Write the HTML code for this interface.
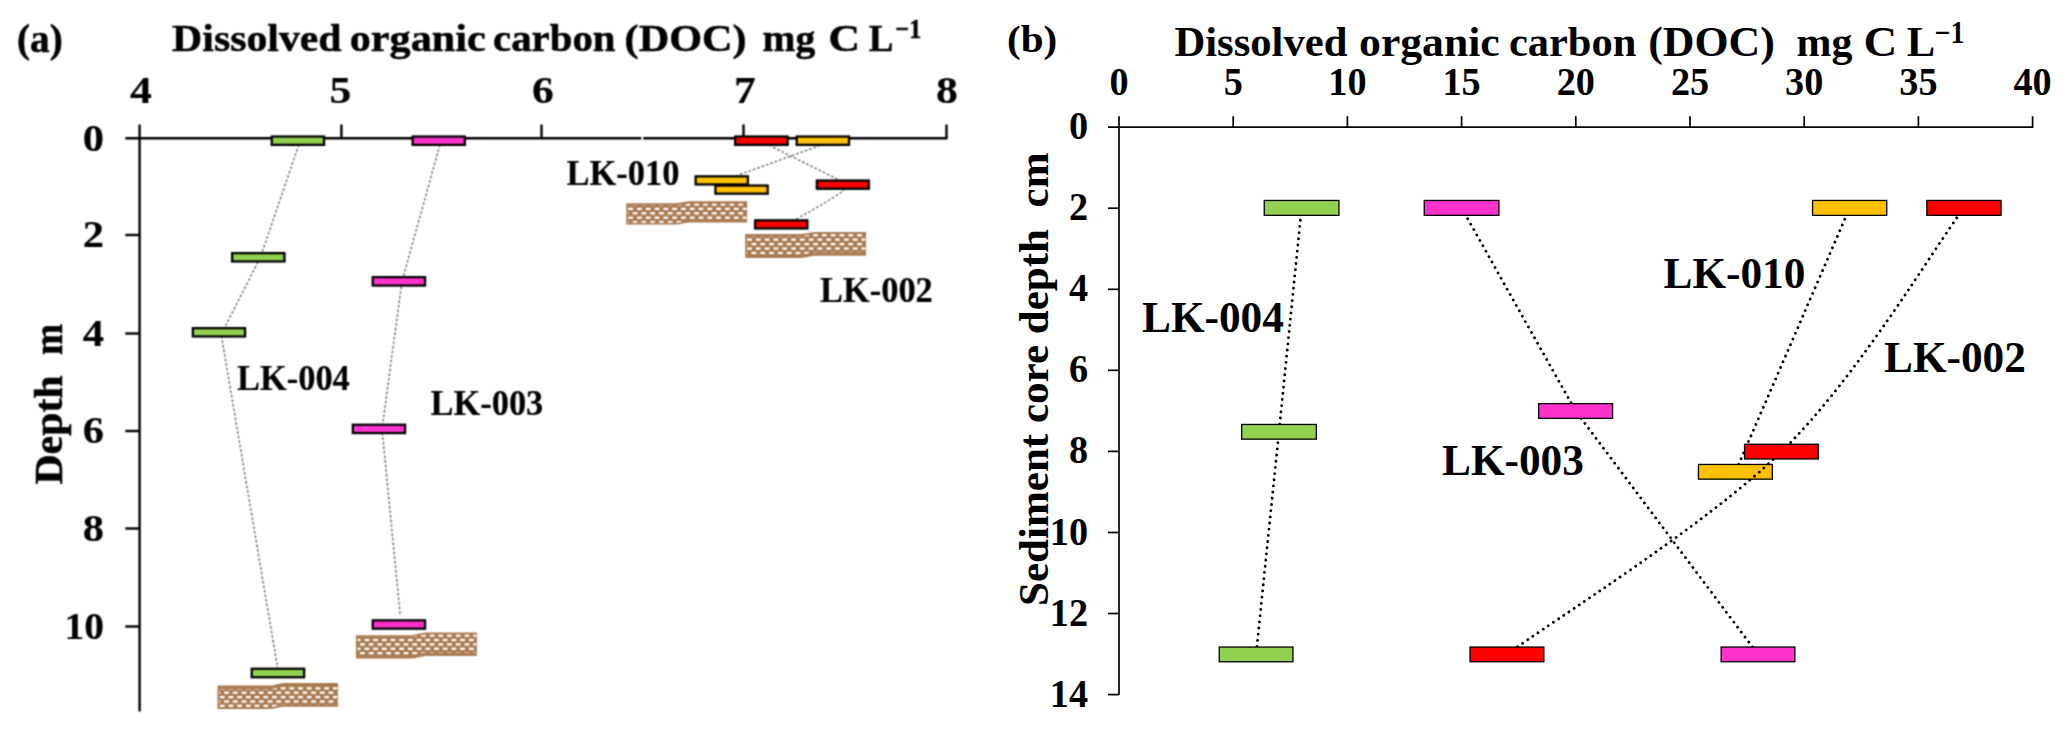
<!DOCTYPE html><html><head><meta charset="utf-8"><title>DOC profiles</title>
<style>html,body{margin:0;padding:0;background:#fff;overflow:hidden}svg{display:block}text{font-family:"Liberation Serif",serif;font-weight:bold;fill:#000;white-space:pre}</style></head><body>
<svg width="2067" height="730" viewBox="0 0 2067 730">
<defs>
<filter id="blur" filterUnits="userSpaceOnUse" x="0" y="0" width="1000" height="730" color-interpolation-filters="sRGB"><feConvolveMatrix order="3" kernelMatrix="1 2 1 2 5 2 1 2 1" divisor="17" edgeMode="duplicate" preserveAlpha="false"/></filter>
</defs>
<rect width="2067" height="730" fill="#fff"/>
<g id="panelA" filter="url(#blur)">
<g stroke="#000" stroke-width="2.4" fill="none">
<path d="M125.3 138.2H641.3M643.3 138.2H947.5"/>
<path d="M139.6 124.5V711.5"/>
<path d="M341.4 124.5V138.2"/>
<path d="M541.5 124.5V138.2"/>
<path d="M743.5 124.5V138.2"/>
<path d="M946.5 124.5V138.2"/>
<path d="M125.3 235.0H139.6"/>
<path d="M125.3 333.5H139.6"/>
<path d="M125.3 431.0H139.6"/>
<path d="M125.3 528.5H139.6"/>
<path d="M125.3 626.5H139.6"/>
</g>
<g stroke="#c8c8c8" stroke-width="0.8" fill="none">
<path d="M300.1 141L260.4 257.2L221.2 334.5L278.5 673"/>
<path d="M441 141L402 281.3L382 429L400.3 616"/>
<path d="M832.7 141L741.2 174L735 177"/>
<path d="M768 141L771.4 146.5L836.2 178.5L842 184L843.7 190.5Q826 203 798.5 217.7L790 224"/>
</g>
<g stroke="#222" stroke-width="1.4" fill="none" stroke-dasharray="1.3 3.3">
<path d="M300.1 141L260.4 257.2L221.2 334.5L278.5 673"/>
<path d="M441 141L402 281.3L382 429L400.3 616"/>
<path d="M832.7 141L741.2 174L735 177"/>
<path d="M768 141L771.4 146.5L836.2 178.5L842 184L843.7 190.5Q826 203 798.5 217.7L790 224"/>
</g>
<path d="M217.50 685.60 L269.50 685.60 C274.50 685.60 279.50 683.00 284.50 683.00 L338.10 683.00 L338.10 706.70 L284.50 706.70 C279.50 706.70 274.50 709.00 269.50 709.00 L217.50 709.00Z" fill="#aa7b53"/><clipPath id="sc1"><path d="M219.10 689.10 L269.50 689.10 C274.50 689.10 279.50 686.50 284.50 686.50 L337.50 686.50 L337.50 704.70 L284.50 704.70 C279.50 704.70 274.50 707.00 269.50 707.00 L219.10 707.00Z"/></clipPath><g clip-path="url(#sc1)" fill="#fff"><rect x="215.45" y="682.78" width="4.8" height="2.3"/><rect x="224.15" y="682.78" width="4.8" height="2.3"/><rect x="232.85" y="682.78" width="4.8" height="2.3"/><rect x="241.55" y="682.78" width="4.8" height="2.3"/><rect x="250.25" y="682.78" width="4.8" height="2.3"/><rect x="258.95" y="682.78" width="4.8" height="2.3"/><rect x="267.65" y="682.78" width="4.8" height="2.3"/><rect x="276.35" y="682.78" width="4.8" height="2.3"/><rect x="285.05" y="682.78" width="4.8" height="2.3"/><rect x="293.75" y="682.78" width="4.8" height="2.3"/><rect x="302.45" y="682.78" width="4.8" height="2.3"/><rect x="311.15" y="682.78" width="4.8" height="2.3"/><rect x="319.85" y="682.78" width="4.8" height="2.3"/><rect x="328.55" y="682.78" width="4.8" height="2.3"/><rect x="337.25" y="682.78" width="4.8" height="2.3"/><rect x="219.80" y="687.17" width="4.8" height="2.3"/><rect x="228.50" y="687.17" width="4.8" height="2.3"/><rect x="237.20" y="687.17" width="4.8" height="2.3"/><rect x="245.90" y="687.17" width="4.8" height="2.3"/><rect x="254.60" y="687.17" width="4.8" height="2.3"/><rect x="263.30" y="687.17" width="4.8" height="2.3"/><rect x="272.00" y="687.17" width="4.8" height="2.3"/><rect x="280.70" y="687.17" width="4.8" height="2.3"/><rect x="289.40" y="687.17" width="4.8" height="2.3"/><rect x="298.10" y="687.17" width="4.8" height="2.3"/><rect x="306.80" y="687.17" width="4.8" height="2.3"/><rect x="315.50" y="687.17" width="4.8" height="2.3"/><rect x="324.20" y="687.17" width="4.8" height="2.3"/><rect x="332.90" y="687.17" width="4.8" height="2.3"/><rect x="215.45" y="691.56" width="4.8" height="2.3"/><rect x="224.15" y="691.56" width="4.8" height="2.3"/><rect x="232.85" y="691.56" width="4.8" height="2.3"/><rect x="241.55" y="691.56" width="4.8" height="2.3"/><rect x="250.25" y="691.56" width="4.8" height="2.3"/><rect x="258.95" y="691.56" width="4.8" height="2.3"/><rect x="267.65" y="691.56" width="4.8" height="2.3"/><rect x="276.35" y="691.56" width="4.8" height="2.3"/><rect x="285.05" y="691.56" width="4.8" height="2.3"/><rect x="293.75" y="691.56" width="4.8" height="2.3"/><rect x="302.45" y="691.56" width="4.8" height="2.3"/><rect x="311.15" y="691.56" width="4.8" height="2.3"/><rect x="319.85" y="691.56" width="4.8" height="2.3"/><rect x="328.55" y="691.56" width="4.8" height="2.3"/><rect x="337.25" y="691.56" width="4.8" height="2.3"/><rect x="219.80" y="695.95" width="4.8" height="2.3"/><rect x="228.50" y="695.95" width="4.8" height="2.3"/><rect x="237.20" y="695.95" width="4.8" height="2.3"/><rect x="245.90" y="695.95" width="4.8" height="2.3"/><rect x="254.60" y="695.95" width="4.8" height="2.3"/><rect x="263.30" y="695.95" width="4.8" height="2.3"/><rect x="272.00" y="695.95" width="4.8" height="2.3"/><rect x="280.70" y="695.95" width="4.8" height="2.3"/><rect x="289.40" y="695.95" width="4.8" height="2.3"/><rect x="298.10" y="695.95" width="4.8" height="2.3"/><rect x="306.80" y="695.95" width="4.8" height="2.3"/><rect x="315.50" y="695.95" width="4.8" height="2.3"/><rect x="324.20" y="695.95" width="4.8" height="2.3"/><rect x="332.90" y="695.95" width="4.8" height="2.3"/><rect x="215.45" y="700.34" width="4.8" height="2.3"/><rect x="224.15" y="700.34" width="4.8" height="2.3"/><rect x="232.85" y="700.34" width="4.8" height="2.3"/><rect x="241.55" y="700.34" width="4.8" height="2.3"/><rect x="250.25" y="700.34" width="4.8" height="2.3"/><rect x="258.95" y="700.34" width="4.8" height="2.3"/><rect x="267.65" y="700.34" width="4.8" height="2.3"/><rect x="276.35" y="700.34" width="4.8" height="2.3"/><rect x="285.05" y="700.34" width="4.8" height="2.3"/><rect x="293.75" y="700.34" width="4.8" height="2.3"/><rect x="302.45" y="700.34" width="4.8" height="2.3"/><rect x="311.15" y="700.34" width="4.8" height="2.3"/><rect x="319.85" y="700.34" width="4.8" height="2.3"/><rect x="328.55" y="700.34" width="4.8" height="2.3"/><rect x="337.25" y="700.34" width="4.8" height="2.3"/><rect x="219.80" y="704.73" width="4.8" height="2.3"/><rect x="228.50" y="704.73" width="4.8" height="2.3"/><rect x="237.20" y="704.73" width="4.8" height="2.3"/><rect x="245.90" y="704.73" width="4.8" height="2.3"/><rect x="254.60" y="704.73" width="4.8" height="2.3"/><rect x="263.30" y="704.73" width="4.8" height="2.3"/><rect x="272.00" y="704.73" width="4.8" height="2.3"/><rect x="280.70" y="704.73" width="4.8" height="2.3"/><rect x="289.40" y="704.73" width="4.8" height="2.3"/><rect x="298.10" y="704.73" width="4.8" height="2.3"/><rect x="306.80" y="704.73" width="4.8" height="2.3"/><rect x="315.50" y="704.73" width="4.8" height="2.3"/><rect x="324.20" y="704.73" width="4.8" height="2.3"/><rect x="332.90" y="704.73" width="4.8" height="2.3"/><rect x="215.45" y="709.12" width="4.8" height="2.3"/><rect x="224.15" y="709.12" width="4.8" height="2.3"/><rect x="232.85" y="709.12" width="4.8" height="2.3"/><rect x="241.55" y="709.12" width="4.8" height="2.3"/><rect x="250.25" y="709.12" width="4.8" height="2.3"/><rect x="258.95" y="709.12" width="4.8" height="2.3"/><rect x="267.65" y="709.12" width="4.8" height="2.3"/><rect x="276.35" y="709.12" width="4.8" height="2.3"/><rect x="285.05" y="709.12" width="4.8" height="2.3"/><rect x="293.75" y="709.12" width="4.8" height="2.3"/><rect x="302.45" y="709.12" width="4.8" height="2.3"/><rect x="311.15" y="709.12" width="4.8" height="2.3"/><rect x="319.85" y="709.12" width="4.8" height="2.3"/><rect x="328.55" y="709.12" width="4.8" height="2.3"/><rect x="337.25" y="709.12" width="4.8" height="2.3"/></g>
<path d="M355.90 635.20 L411.00 635.20 C416.00 635.20 421.00 632.60 426.00 632.60 L476.90 632.60 L476.90 656.00 L426.00 656.00 C421.00 656.00 416.00 658.60 411.00 658.60 L355.90 658.60Z" fill="#aa7b53"/><clipPath id="sc2"><path d="M357.50 636.90 L411.00 636.90 C416.00 636.90 421.00 634.30 426.00 634.30 L476.30 634.30 L476.30 652.50 L426.00 652.50 C421.00 652.50 416.00 655.10 411.00 655.10 L357.50 655.10Z"/></clipPath><g clip-path="url(#sc2)" fill="#fff"><rect x="355.75" y="630.08" width="4.8" height="2.3"/><rect x="364.45" y="630.08" width="4.8" height="2.3"/><rect x="373.15" y="630.08" width="4.8" height="2.3"/><rect x="381.85" y="630.08" width="4.8" height="2.3"/><rect x="390.55" y="630.08" width="4.8" height="2.3"/><rect x="399.25" y="630.08" width="4.8" height="2.3"/><rect x="407.95" y="630.08" width="4.8" height="2.3"/><rect x="416.65" y="630.08" width="4.8" height="2.3"/><rect x="425.35" y="630.08" width="4.8" height="2.3"/><rect x="434.05" y="630.08" width="4.8" height="2.3"/><rect x="442.75" y="630.08" width="4.8" height="2.3"/><rect x="451.45" y="630.08" width="4.8" height="2.3"/><rect x="460.15" y="630.08" width="4.8" height="2.3"/><rect x="468.85" y="630.08" width="4.8" height="2.3"/><rect x="351.40" y="634.47" width="4.8" height="2.3"/><rect x="360.10" y="634.47" width="4.8" height="2.3"/><rect x="368.80" y="634.47" width="4.8" height="2.3"/><rect x="377.50" y="634.47" width="4.8" height="2.3"/><rect x="386.20" y="634.47" width="4.8" height="2.3"/><rect x="394.90" y="634.47" width="4.8" height="2.3"/><rect x="403.60" y="634.47" width="4.8" height="2.3"/><rect x="412.30" y="634.47" width="4.8" height="2.3"/><rect x="421.00" y="634.47" width="4.8" height="2.3"/><rect x="429.70" y="634.47" width="4.8" height="2.3"/><rect x="438.40" y="634.47" width="4.8" height="2.3"/><rect x="447.10" y="634.47" width="4.8" height="2.3"/><rect x="455.80" y="634.47" width="4.8" height="2.3"/><rect x="464.50" y="634.47" width="4.8" height="2.3"/><rect x="473.20" y="634.47" width="4.8" height="2.3"/><rect x="355.75" y="638.86" width="4.8" height="2.3"/><rect x="364.45" y="638.86" width="4.8" height="2.3"/><rect x="373.15" y="638.86" width="4.8" height="2.3"/><rect x="381.85" y="638.86" width="4.8" height="2.3"/><rect x="390.55" y="638.86" width="4.8" height="2.3"/><rect x="399.25" y="638.86" width="4.8" height="2.3"/><rect x="407.95" y="638.86" width="4.8" height="2.3"/><rect x="416.65" y="638.86" width="4.8" height="2.3"/><rect x="425.35" y="638.86" width="4.8" height="2.3"/><rect x="434.05" y="638.86" width="4.8" height="2.3"/><rect x="442.75" y="638.86" width="4.8" height="2.3"/><rect x="451.45" y="638.86" width="4.8" height="2.3"/><rect x="460.15" y="638.86" width="4.8" height="2.3"/><rect x="468.85" y="638.86" width="4.8" height="2.3"/><rect x="351.40" y="643.25" width="4.8" height="2.3"/><rect x="360.10" y="643.25" width="4.8" height="2.3"/><rect x="368.80" y="643.25" width="4.8" height="2.3"/><rect x="377.50" y="643.25" width="4.8" height="2.3"/><rect x="386.20" y="643.25" width="4.8" height="2.3"/><rect x="394.90" y="643.25" width="4.8" height="2.3"/><rect x="403.60" y="643.25" width="4.8" height="2.3"/><rect x="412.30" y="643.25" width="4.8" height="2.3"/><rect x="421.00" y="643.25" width="4.8" height="2.3"/><rect x="429.70" y="643.25" width="4.8" height="2.3"/><rect x="438.40" y="643.25" width="4.8" height="2.3"/><rect x="447.10" y="643.25" width="4.8" height="2.3"/><rect x="455.80" y="643.25" width="4.8" height="2.3"/><rect x="464.50" y="643.25" width="4.8" height="2.3"/><rect x="473.20" y="643.25" width="4.8" height="2.3"/><rect x="355.75" y="647.64" width="4.8" height="2.3"/><rect x="364.45" y="647.64" width="4.8" height="2.3"/><rect x="373.15" y="647.64" width="4.8" height="2.3"/><rect x="381.85" y="647.64" width="4.8" height="2.3"/><rect x="390.55" y="647.64" width="4.8" height="2.3"/><rect x="399.25" y="647.64" width="4.8" height="2.3"/><rect x="407.95" y="647.64" width="4.8" height="2.3"/><rect x="416.65" y="647.64" width="4.8" height="2.3"/><rect x="425.35" y="647.64" width="4.8" height="2.3"/><rect x="434.05" y="647.64" width="4.8" height="2.3"/><rect x="442.75" y="647.64" width="4.8" height="2.3"/><rect x="451.45" y="647.64" width="4.8" height="2.3"/><rect x="460.15" y="647.64" width="4.8" height="2.3"/><rect x="468.85" y="647.64" width="4.8" height="2.3"/><rect x="351.40" y="652.03" width="4.8" height="2.3"/><rect x="360.10" y="652.03" width="4.8" height="2.3"/><rect x="368.80" y="652.03" width="4.8" height="2.3"/><rect x="377.50" y="652.03" width="4.8" height="2.3"/><rect x="386.20" y="652.03" width="4.8" height="2.3"/><rect x="394.90" y="652.03" width="4.8" height="2.3"/><rect x="403.60" y="652.03" width="4.8" height="2.3"/><rect x="412.30" y="652.03" width="4.8" height="2.3"/><rect x="421.00" y="652.03" width="4.8" height="2.3"/><rect x="429.70" y="652.03" width="4.8" height="2.3"/><rect x="438.40" y="652.03" width="4.8" height="2.3"/><rect x="447.10" y="652.03" width="4.8" height="2.3"/><rect x="455.80" y="652.03" width="4.8" height="2.3"/><rect x="464.50" y="652.03" width="4.8" height="2.3"/><rect x="473.20" y="652.03" width="4.8" height="2.3"/><rect x="355.75" y="656.42" width="4.8" height="2.3"/><rect x="364.45" y="656.42" width="4.8" height="2.3"/><rect x="373.15" y="656.42" width="4.8" height="2.3"/><rect x="381.85" y="656.42" width="4.8" height="2.3"/><rect x="390.55" y="656.42" width="4.8" height="2.3"/><rect x="399.25" y="656.42" width="4.8" height="2.3"/><rect x="407.95" y="656.42" width="4.8" height="2.3"/><rect x="416.65" y="656.42" width="4.8" height="2.3"/><rect x="425.35" y="656.42" width="4.8" height="2.3"/><rect x="434.05" y="656.42" width="4.8" height="2.3"/><rect x="442.75" y="656.42" width="4.8" height="2.3"/><rect x="451.45" y="656.42" width="4.8" height="2.3"/><rect x="460.15" y="656.42" width="4.8" height="2.3"/><rect x="468.85" y="656.42" width="4.8" height="2.3"/></g>
<path d="M626.30 203.20 L675.50 203.20 C680.50 203.20 685.50 201.30 690.50 201.30 L747.10 201.30 L747.10 222.50 L690.50 222.50 C685.50 222.50 680.50 224.60 675.50 224.60 L626.30 224.60Z" fill="#aa7b53"/><clipPath id="sc3"><path d="M627.90 205.40 L675.50 205.40 C680.50 205.40 685.50 203.50 690.50 203.50 L746.50 203.50 L746.50 220.70 L690.50 220.70 C685.50 220.70 680.50 222.80 675.50 222.80 L627.90 222.80Z"/></clipPath><g clip-path="url(#sc3)" fill="#fff"><rect x="628.20" y="198.95" width="4.8" height="2.3"/><rect x="637.00" y="198.95" width="4.8" height="2.3"/><rect x="645.80" y="198.95" width="4.8" height="2.3"/><rect x="654.60" y="198.95" width="4.8" height="2.3"/><rect x="663.40" y="198.95" width="4.8" height="2.3"/><rect x="672.20" y="198.95" width="4.8" height="2.3"/><rect x="681.00" y="198.95" width="4.8" height="2.3"/><rect x="689.80" y="198.95" width="4.8" height="2.3"/><rect x="698.60" y="198.95" width="4.8" height="2.3"/><rect x="707.40" y="198.95" width="4.8" height="2.3"/><rect x="716.20" y="198.95" width="4.8" height="2.3"/><rect x="725.00" y="198.95" width="4.8" height="2.3"/><rect x="733.80" y="198.95" width="4.8" height="2.3"/><rect x="742.60" y="198.95" width="4.8" height="2.3"/><rect x="623.80" y="203.35" width="4.8" height="2.3"/><rect x="632.60" y="203.35" width="4.8" height="2.3"/><rect x="641.40" y="203.35" width="4.8" height="2.3"/><rect x="650.20" y="203.35" width="4.8" height="2.3"/><rect x="659.00" y="203.35" width="4.8" height="2.3"/><rect x="667.80" y="203.35" width="4.8" height="2.3"/><rect x="676.60" y="203.35" width="4.8" height="2.3"/><rect x="685.40" y="203.35" width="4.8" height="2.3"/><rect x="694.20" y="203.35" width="4.8" height="2.3"/><rect x="703.00" y="203.35" width="4.8" height="2.3"/><rect x="711.80" y="203.35" width="4.8" height="2.3"/><rect x="720.60" y="203.35" width="4.8" height="2.3"/><rect x="729.40" y="203.35" width="4.8" height="2.3"/><rect x="738.20" y="203.35" width="4.8" height="2.3"/><rect x="747.00" y="203.35" width="4.8" height="2.3"/><rect x="628.20" y="207.75" width="4.8" height="2.3"/><rect x="637.00" y="207.75" width="4.8" height="2.3"/><rect x="645.80" y="207.75" width="4.8" height="2.3"/><rect x="654.60" y="207.75" width="4.8" height="2.3"/><rect x="663.40" y="207.75" width="4.8" height="2.3"/><rect x="672.20" y="207.75" width="4.8" height="2.3"/><rect x="681.00" y="207.75" width="4.8" height="2.3"/><rect x="689.80" y="207.75" width="4.8" height="2.3"/><rect x="698.60" y="207.75" width="4.8" height="2.3"/><rect x="707.40" y="207.75" width="4.8" height="2.3"/><rect x="716.20" y="207.75" width="4.8" height="2.3"/><rect x="725.00" y="207.75" width="4.8" height="2.3"/><rect x="733.80" y="207.75" width="4.8" height="2.3"/><rect x="742.60" y="207.75" width="4.8" height="2.3"/><rect x="623.80" y="212.15" width="4.8" height="2.3"/><rect x="632.60" y="212.15" width="4.8" height="2.3"/><rect x="641.40" y="212.15" width="4.8" height="2.3"/><rect x="650.20" y="212.15" width="4.8" height="2.3"/><rect x="659.00" y="212.15" width="4.8" height="2.3"/><rect x="667.80" y="212.15" width="4.8" height="2.3"/><rect x="676.60" y="212.15" width="4.8" height="2.3"/><rect x="685.40" y="212.15" width="4.8" height="2.3"/><rect x="694.20" y="212.15" width="4.8" height="2.3"/><rect x="703.00" y="212.15" width="4.8" height="2.3"/><rect x="711.80" y="212.15" width="4.8" height="2.3"/><rect x="720.60" y="212.15" width="4.8" height="2.3"/><rect x="729.40" y="212.15" width="4.8" height="2.3"/><rect x="738.20" y="212.15" width="4.8" height="2.3"/><rect x="747.00" y="212.15" width="4.8" height="2.3"/><rect x="628.20" y="216.55" width="4.8" height="2.3"/><rect x="637.00" y="216.55" width="4.8" height="2.3"/><rect x="645.80" y="216.55" width="4.8" height="2.3"/><rect x="654.60" y="216.55" width="4.8" height="2.3"/><rect x="663.40" y="216.55" width="4.8" height="2.3"/><rect x="672.20" y="216.55" width="4.8" height="2.3"/><rect x="681.00" y="216.55" width="4.8" height="2.3"/><rect x="689.80" y="216.55" width="4.8" height="2.3"/><rect x="698.60" y="216.55" width="4.8" height="2.3"/><rect x="707.40" y="216.55" width="4.8" height="2.3"/><rect x="716.20" y="216.55" width="4.8" height="2.3"/><rect x="725.00" y="216.55" width="4.8" height="2.3"/><rect x="733.80" y="216.55" width="4.8" height="2.3"/><rect x="742.60" y="216.55" width="4.8" height="2.3"/><rect x="623.80" y="220.95" width="4.8" height="2.3"/><rect x="632.60" y="220.95" width="4.8" height="2.3"/><rect x="641.40" y="220.95" width="4.8" height="2.3"/><rect x="650.20" y="220.95" width="4.8" height="2.3"/><rect x="659.00" y="220.95" width="4.8" height="2.3"/><rect x="667.80" y="220.95" width="4.8" height="2.3"/><rect x="676.60" y="220.95" width="4.8" height="2.3"/><rect x="685.40" y="220.95" width="4.8" height="2.3"/><rect x="694.20" y="220.95" width="4.8" height="2.3"/><rect x="703.00" y="220.95" width="4.8" height="2.3"/><rect x="711.80" y="220.95" width="4.8" height="2.3"/><rect x="720.60" y="220.95" width="4.8" height="2.3"/><rect x="729.40" y="220.95" width="4.8" height="2.3"/><rect x="738.20" y="220.95" width="4.8" height="2.3"/><rect x="747.00" y="220.95" width="4.8" height="2.3"/><rect x="628.20" y="225.35" width="4.8" height="2.3"/><rect x="637.00" y="225.35" width="4.8" height="2.3"/><rect x="645.80" y="225.35" width="4.8" height="2.3"/><rect x="654.60" y="225.35" width="4.8" height="2.3"/><rect x="663.40" y="225.35" width="4.8" height="2.3"/><rect x="672.20" y="225.35" width="4.8" height="2.3"/><rect x="681.00" y="225.35" width="4.8" height="2.3"/><rect x="689.80" y="225.35" width="4.8" height="2.3"/><rect x="698.60" y="225.35" width="4.8" height="2.3"/><rect x="707.40" y="225.35" width="4.8" height="2.3"/><rect x="716.20" y="225.35" width="4.8" height="2.3"/><rect x="725.00" y="225.35" width="4.8" height="2.3"/><rect x="733.80" y="225.35" width="4.8" height="2.3"/><rect x="742.60" y="225.35" width="4.8" height="2.3"/></g>
<path d="M745.20 234.00 L801.20 234.00 C806.20 234.00 811.20 232.10 816.20 232.10 L866.00 232.10 L866.00 255.70 L816.20 255.70 C811.20 255.70 806.20 257.90 801.20 257.90 L745.20 257.90Z" fill="#aa7b53"/><clipPath id="sc4"><path d="M746.80 236.00 L801.20 236.00 C806.20 236.00 811.20 234.10 816.20 234.10 L865.40 234.10 L865.40 252.30 L816.20 252.30 C811.20 252.30 806.20 254.50 801.20 254.50 L746.80 254.50Z"/></clipPath><g clip-path="url(#sc4)" fill="#fff"><rect x="747.10" y="229.60" width="4.8" height="2.3"/><rect x="755.90" y="229.60" width="4.8" height="2.3"/><rect x="764.70" y="229.60" width="4.8" height="2.3"/><rect x="773.50" y="229.60" width="4.8" height="2.3"/><rect x="782.30" y="229.60" width="4.8" height="2.3"/><rect x="791.10" y="229.60" width="4.8" height="2.3"/><rect x="799.90" y="229.60" width="4.8" height="2.3"/><rect x="808.70" y="229.60" width="4.8" height="2.3"/><rect x="817.50" y="229.60" width="4.8" height="2.3"/><rect x="826.30" y="229.60" width="4.8" height="2.3"/><rect x="835.10" y="229.60" width="4.8" height="2.3"/><rect x="843.90" y="229.60" width="4.8" height="2.3"/><rect x="852.70" y="229.60" width="4.8" height="2.3"/><rect x="861.50" y="229.60" width="4.8" height="2.3"/><rect x="742.70" y="234.05" width="4.8" height="2.3"/><rect x="751.50" y="234.05" width="4.8" height="2.3"/><rect x="760.30" y="234.05" width="4.8" height="2.3"/><rect x="769.10" y="234.05" width="4.8" height="2.3"/><rect x="777.90" y="234.05" width="4.8" height="2.3"/><rect x="786.70" y="234.05" width="4.8" height="2.3"/><rect x="795.50" y="234.05" width="4.8" height="2.3"/><rect x="804.30" y="234.05" width="4.8" height="2.3"/><rect x="813.10" y="234.05" width="4.8" height="2.3"/><rect x="821.90" y="234.05" width="4.8" height="2.3"/><rect x="830.70" y="234.05" width="4.8" height="2.3"/><rect x="839.50" y="234.05" width="4.8" height="2.3"/><rect x="848.30" y="234.05" width="4.8" height="2.3"/><rect x="857.10" y="234.05" width="4.8" height="2.3"/><rect x="865.90" y="234.05" width="4.8" height="2.3"/><rect x="747.10" y="238.50" width="4.8" height="2.3"/><rect x="755.90" y="238.50" width="4.8" height="2.3"/><rect x="764.70" y="238.50" width="4.8" height="2.3"/><rect x="773.50" y="238.50" width="4.8" height="2.3"/><rect x="782.30" y="238.50" width="4.8" height="2.3"/><rect x="791.10" y="238.50" width="4.8" height="2.3"/><rect x="799.90" y="238.50" width="4.8" height="2.3"/><rect x="808.70" y="238.50" width="4.8" height="2.3"/><rect x="817.50" y="238.50" width="4.8" height="2.3"/><rect x="826.30" y="238.50" width="4.8" height="2.3"/><rect x="835.10" y="238.50" width="4.8" height="2.3"/><rect x="843.90" y="238.50" width="4.8" height="2.3"/><rect x="852.70" y="238.50" width="4.8" height="2.3"/><rect x="861.50" y="238.50" width="4.8" height="2.3"/><rect x="742.70" y="242.95" width="4.8" height="2.3"/><rect x="751.50" y="242.95" width="4.8" height="2.3"/><rect x="760.30" y="242.95" width="4.8" height="2.3"/><rect x="769.10" y="242.95" width="4.8" height="2.3"/><rect x="777.90" y="242.95" width="4.8" height="2.3"/><rect x="786.70" y="242.95" width="4.8" height="2.3"/><rect x="795.50" y="242.95" width="4.8" height="2.3"/><rect x="804.30" y="242.95" width="4.8" height="2.3"/><rect x="813.10" y="242.95" width="4.8" height="2.3"/><rect x="821.90" y="242.95" width="4.8" height="2.3"/><rect x="830.70" y="242.95" width="4.8" height="2.3"/><rect x="839.50" y="242.95" width="4.8" height="2.3"/><rect x="848.30" y="242.95" width="4.8" height="2.3"/><rect x="857.10" y="242.95" width="4.8" height="2.3"/><rect x="865.90" y="242.95" width="4.8" height="2.3"/><rect x="747.10" y="247.40" width="4.8" height="2.3"/><rect x="755.90" y="247.40" width="4.8" height="2.3"/><rect x="764.70" y="247.40" width="4.8" height="2.3"/><rect x="773.50" y="247.40" width="4.8" height="2.3"/><rect x="782.30" y="247.40" width="4.8" height="2.3"/><rect x="791.10" y="247.40" width="4.8" height="2.3"/><rect x="799.90" y="247.40" width="4.8" height="2.3"/><rect x="808.70" y="247.40" width="4.8" height="2.3"/><rect x="817.50" y="247.40" width="4.8" height="2.3"/><rect x="826.30" y="247.40" width="4.8" height="2.3"/><rect x="835.10" y="247.40" width="4.8" height="2.3"/><rect x="843.90" y="247.40" width="4.8" height="2.3"/><rect x="852.70" y="247.40" width="4.8" height="2.3"/><rect x="861.50" y="247.40" width="4.8" height="2.3"/><rect x="742.70" y="251.85" width="4.8" height="2.3"/><rect x="751.50" y="251.85" width="4.8" height="2.3"/><rect x="760.30" y="251.85" width="4.8" height="2.3"/><rect x="769.10" y="251.85" width="4.8" height="2.3"/><rect x="777.90" y="251.85" width="4.8" height="2.3"/><rect x="786.70" y="251.85" width="4.8" height="2.3"/><rect x="795.50" y="251.85" width="4.8" height="2.3"/><rect x="804.30" y="251.85" width="4.8" height="2.3"/><rect x="813.10" y="251.85" width="4.8" height="2.3"/><rect x="821.90" y="251.85" width="4.8" height="2.3"/><rect x="830.70" y="251.85" width="4.8" height="2.3"/><rect x="839.50" y="251.85" width="4.8" height="2.3"/><rect x="848.30" y="251.85" width="4.8" height="2.3"/><rect x="857.10" y="251.85" width="4.8" height="2.3"/><rect x="865.90" y="251.85" width="4.8" height="2.3"/><rect x="747.10" y="256.30" width="4.8" height="2.3"/><rect x="755.90" y="256.30" width="4.8" height="2.3"/><rect x="764.70" y="256.30" width="4.8" height="2.3"/><rect x="773.50" y="256.30" width="4.8" height="2.3"/><rect x="782.30" y="256.30" width="4.8" height="2.3"/><rect x="791.10" y="256.30" width="4.8" height="2.3"/><rect x="799.90" y="256.30" width="4.8" height="2.3"/><rect x="808.70" y="256.30" width="4.8" height="2.3"/><rect x="817.50" y="256.30" width="4.8" height="2.3"/><rect x="826.30" y="256.30" width="4.8" height="2.3"/><rect x="835.10" y="256.30" width="4.8" height="2.3"/><rect x="843.90" y="256.30" width="4.8" height="2.3"/><rect x="852.70" y="256.30" width="4.8" height="2.3"/><rect x="861.50" y="256.30" width="4.8" height="2.3"/></g>
<rect x="271.75" y="136.55" width="52.30" height="8.30" fill="#92d050" stroke="#000" stroke-width="2.3"/>
<rect x="232.15" y="253.15" width="52.30" height="8.30" fill="#92d050" stroke="#000" stroke-width="2.3"/>
<rect x="192.85" y="328.15" width="52.20" height="8.30" fill="#92d050" stroke="#000" stroke-width="2.3"/>
<rect x="251.75" y="668.75" width="52.40" height="8.50" fill="#92d050" stroke="#000" stroke-width="2.3"/>
<rect x="412.65" y="136.55" width="52.20" height="8.30" fill="#ff33cc" stroke="#000" stroke-width="2.3"/>
<rect x="372.75" y="277.15" width="52.30" height="8.40" fill="#ff33cc" stroke="#000" stroke-width="2.3"/>
<rect x="352.85" y="424.75" width="52.20" height="8.30" fill="#ff33cc" stroke="#000" stroke-width="2.3"/>
<rect x="372.75" y="620.35" width="52.30" height="8.30" fill="#ff33cc" stroke="#000" stroke-width="2.3"/>
<rect x="796.75" y="136.55" width="52.30" height="8.30" fill="#ffc000" stroke="#000" stroke-width="2.3"/>
<rect x="695.65" y="176.35" width="52.20" height="8.10" fill="#ffc000" stroke="#000" stroke-width="2.3"/>
<rect x="715.45" y="185.55" width="52.20" height="8.10" fill="#ffc000" stroke="#000" stroke-width="2.3"/>
<rect x="735.15" y="136.55" width="52.50" height="8.30" fill="#ff0000" stroke="#000" stroke-width="2.3"/>
<rect x="816.85" y="180.55" width="52.00" height="8.20" fill="#ff0000" stroke="#000" stroke-width="2.3"/>
<rect x="755.15" y="220.35" width="52.20" height="8.10" fill="#ff0000" stroke="#000" stroke-width="2.3"/>
<text transform="translate(17 52.3) scale(0.98 1)" font-size="40" text-anchor="start" stroke="#000" stroke-width="0.5" >(a)</text>
<text transform="translate(172.1 51.2) scale(1.086 1)" font-size="38.5" text-anchor="start" stroke="#000" stroke-width="0.5" >Dissolved</text>
<text transform="translate(349.8 51.2) scale(1.095 1)" font-size="38.5" text-anchor="start" stroke="#000" stroke-width="0.5" >organic</text>
<text transform="translate(493.1 51.2) scale(1.06 1)" font-size="38.5" text-anchor="start" stroke="#000" stroke-width="0.5" >carbon</text>
<text transform="translate(624.6 51.2) scale(1.097 1)" font-size="38.5" text-anchor="start" stroke="#000" stroke-width="0.5" >(DOC)</text>
<text transform="translate(762.6 51.2) scale(1.025 1)" font-size="38.5" text-anchor="start" stroke="#000" stroke-width="0.5" >mg</text>
<text transform="translate(828.4 51.2) scale(1.133 1)" font-size="38.5" text-anchor="start" stroke="#000" stroke-width="0.5" >C</text>
<text transform="translate(868.7 51.2) scale(0.959 1)" font-size="38.5" text-anchor="start" stroke="#000" stroke-width="0.5" >L</text>
<text transform="translate(895.5 37.8) scale(0.86 1)" font-size="28" text-anchor="start" stroke="#000" stroke-width="0.5" >−1</text>
<text transform="translate(140.8 103.3) scale(1.15 1)" font-size="38" text-anchor="middle" stroke="#000" stroke-width="0.15" >4</text>
<text transform="translate(340.5 103.3) scale(1.15 1)" font-size="38" text-anchor="middle" stroke="#000" stroke-width="0.15" >5</text>
<text transform="translate(543 103.3) scale(1.15 1)" font-size="38" text-anchor="middle" stroke="#000" stroke-width="0.15" >6</text>
<text transform="translate(745 103.3) scale(1.15 1)" font-size="38" text-anchor="middle" stroke="#000" stroke-width="0.15" >7</text>
<text transform="translate(947 103.3) scale(1.15 1)" font-size="38" text-anchor="middle" stroke="#000" stroke-width="0.15" >8</text>
<text transform="translate(104 150.6) scale(1.12 1)" font-size="38" text-anchor="end" stroke="#000" stroke-width="0.15" >0</text>
<text transform="translate(104 247.4) scale(1.12 1)" font-size="38" text-anchor="end" stroke="#000" stroke-width="0.15" >2</text>
<text transform="translate(104 345.9) scale(1.12 1)" font-size="38" text-anchor="end" stroke="#000" stroke-width="0.15" >4</text>
<text transform="translate(104 443.4) scale(1.12 1)" font-size="38" text-anchor="end" stroke="#000" stroke-width="0.15" >6</text>
<text transform="translate(104 540.9) scale(1.12 1)" font-size="38" text-anchor="end" stroke="#000" stroke-width="0.15" >8</text>
<text transform="translate(104 638.9) scale(1.04 1)" font-size="38" text-anchor="end" stroke="#000" stroke-width="0.15" >10</text>
<text transform="translate(237 390.2) scale(0.975 1)" font-size="35.3" text-anchor="start" stroke="#000" stroke-width="0.2" >LK-004</text>
<text transform="translate(430.5 414.6) scale(0.975 1)" font-size="35.3" text-anchor="start" stroke="#000" stroke-width="0.2" >LK-003</text>
<text transform="translate(566.6 185.4) scale(0.975 1)" font-size="35.3" text-anchor="start" stroke="#000" stroke-width="0.2" >LK-010</text>
<text transform="translate(820 302.4) scale(0.975 1)" font-size="35.3" text-anchor="start" stroke="#000" stroke-width="0.2" >LK-002</text>
<text transform="translate(61.6 484.6) rotate(-90) scale(1.02 1)" font-size="41" stroke="#000" stroke-width="0.5">Depth</text>
<text transform="translate(61.6 355.0) rotate(-90) scale(0.91 1)" font-size="41" stroke="#000" stroke-width="0.5">m</text>
</g>
<g id="panelB">
<g stroke="#000" stroke-width="1.7" fill="none">
<path d="M1108 127.2H2033.3"/>
<path d="M1119.0 116.2V695"/>
<path d="M1233.2 116.2V127.2"/>
<path d="M1347.4 116.2V127.2"/>
<path d="M1461.6 116.2V127.2"/>
<path d="M1575.8 116.2V127.2"/>
<path d="M1690.0 116.2V127.2"/>
<path d="M1804.2 116.2V127.2"/>
<path d="M1918.4 116.2V127.2"/>
<path d="M2032.6 116.2V127.2"/>
<path d="M1108 208.2H1119.0"/>
<path d="M1108 289.3H1119.0"/>
<path d="M1108 370.3H1119.0"/>
<path d="M1108 451.4H1119.0"/>
<path d="M1108 532.5H1119.0"/>
<path d="M1108 613.5H1119.0"/>
<path d="M1108 694.6H1119.0"/>
</g>
<path d="M1301.6 207.9L1279.0 431.8L1256.1 654.4" stroke="#000" stroke-width="2.85" fill="none" stroke-linecap="round" stroke-dasharray="0.01 6.2"/>
<rect x="1264.25" y="200.45" width="74.70" height="14.90" fill="#92d050" stroke="#000" stroke-width="1.3"/>
<rect x="1241.65" y="424.45" width="74.70" height="14.70" fill="#92d050" stroke="#000" stroke-width="1.3"/>
<rect x="1219.25" y="647.05" width="73.70" height="14.70" fill="#92d050" stroke="#000" stroke-width="1.3"/>
<path d="M1461.6 207.9L1575.6 411.0L1758.0 654.4" stroke="#000" stroke-width="2.85" fill="none" stroke-linecap="round" stroke-dasharray="0.01 6.2"/>
<rect x="1424.25" y="200.45" width="74.70" height="14.90" fill="#ff33cc" stroke="#000" stroke-width="1.3"/>
<rect x="1538.65" y="403.65" width="73.90" height="14.70" fill="#ff33cc" stroke="#000" stroke-width="1.3"/>
<rect x="1721.15" y="647.05" width="73.70" height="14.70" fill="#ff33cc" stroke="#000" stroke-width="1.3"/>
<path d="M1849.7 207.9L1735.4 471.8" stroke="#000" stroke-width="2.85" fill="none" stroke-linecap="round" stroke-dasharray="0.01 6.2"/>
<rect x="1812.55" y="200.45" width="74.20" height="14.90" fill="#ffc000" stroke="#000" stroke-width="1.3"/>
<rect x="1698.45" y="464.45" width="73.90" height="14.70" fill="#ffc000" stroke="#000" stroke-width="1.3"/>
<path d="M1964.0 207.9C1933.5 248.5 1857.6 377.2 1781.5 451.6C1705.3 526.0 1552.7 620.6 1507.0 654.4" stroke="#000" stroke-width="2.85" fill="none" stroke-linecap="round" stroke-dasharray="0.01 6.2"/>
<rect x="1926.85" y="200.45" width="74.20" height="14.90" fill="#ff0000" stroke="#000" stroke-width="1.3"/>
<rect x="1744.55" y="444.25" width="73.80" height="14.70" fill="#ff0000" stroke="#000" stroke-width="1.3"/>
<rect x="1470.05" y="647.05" width="73.80" height="14.70" fill="#ff0000" stroke="#000" stroke-width="1.3"/>
<text transform="translate(1007 51.9) scale(1.07 1)" font-size="38.4">(b)</text>
<text transform="translate(1174.4 55.8) scale(1.028 1)" font-size="41.5">Dissolved</text>
<text transform="translate(1359.1 55.8) scale(1.052 1)" font-size="41.5">organic</text>
<text transform="translate(1508.9 55.8) scale(1.024 1)" font-size="41.5">carbon</text>
<text transform="translate(1648.2 55.8) scale(1.057 1)" font-size="41.5">(DOC)</text>
<text transform="translate(1796.6 55.8) scale(1.009 1)" font-size="41.5">mg</text>
<text transform="translate(1863.6 55.8) scale(1.126 1)" font-size="41.5">C</text>
<text transform="translate(1906.8 55.8) scale(1.026 1)" font-size="41.5">L</text>
<text transform="translate(1934.4 43.4) scale(0.905 1)" font-size="31">−1</text>
<text transform="translate(1119.0 95.3) scale(0.965 1)" font-size="39.6" text-anchor="middle">0</text>
<text transform="translate(1233.2 95.3) scale(0.965 1)" font-size="39.6" text-anchor="middle">5</text>
<text transform="translate(1347.4 95.3) scale(0.965 1)" font-size="39.6" text-anchor="middle">10</text>
<text transform="translate(1461.6 95.3) scale(0.965 1)" font-size="39.6" text-anchor="middle">15</text>
<text transform="translate(1575.8 95.3) scale(0.965 1)" font-size="39.6" text-anchor="middle">20</text>
<text transform="translate(1690.0 95.3) scale(0.965 1)" font-size="39.6" text-anchor="middle">25</text>
<text transform="translate(1804.2 95.3) scale(0.965 1)" font-size="39.6" text-anchor="middle">30</text>
<text transform="translate(1918.4 95.3) scale(0.965 1)" font-size="39.6" text-anchor="middle">35</text>
<text transform="translate(2032.6 95.3) scale(0.965 1)" font-size="39.6" text-anchor="middle">40</text>
<text transform="translate(1088 139.2) scale(0.965 1)" font-size="39.6" text-anchor="end">0</text>
<text transform="translate(1088 220.2) scale(0.965 1)" font-size="39.6" text-anchor="end">2</text>
<text transform="translate(1088 301.3) scale(0.965 1)" font-size="39.6" text-anchor="end">4</text>
<text transform="translate(1088 382.3) scale(0.965 1)" font-size="39.6" text-anchor="end">6</text>
<text transform="translate(1088 463.4) scale(0.965 1)" font-size="39.6" text-anchor="end">8</text>
<text transform="translate(1088 544.5) scale(0.965 1)" font-size="39.6" text-anchor="end">10</text>
<text transform="translate(1088 625.5) scale(0.965 1)" font-size="39.6" text-anchor="end">12</text>
<text transform="translate(1088 706.6) scale(0.965 1)" font-size="39.6" text-anchor="end">14</text>
<text x="1142" y="332.3" font-size="43.3">LK-004</text>
<text x="1442" y="475.3" font-size="43.3">LK-003</text>
<text x="1663.5" y="287.8" font-size="43.3">LK-010</text>
<text x="1884" y="372.3" font-size="43.3">LK-002</text>
<text transform="translate(1047.7 606) rotate(-90)" font-size="43.05">Sediment core depth  cm</text>
</g>
</svg></body></html>
